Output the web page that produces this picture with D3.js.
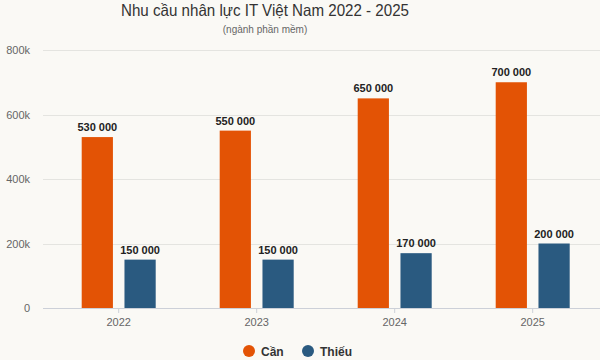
<!DOCTYPE html>
<html><head><meta charset="utf-8">
<script src="https://cdn.jsdelivr.net/npm/d3@7"></script>
<style>html,body{margin:0;padding:0;background:#faf9f5;}svg{display:block;font-family:"Liberation Sans",Arial,sans-serif;}</style>
</head><body><svg id="c" width="600" height="360"></svg>
<script>
const categories = ["2022", "2023", "2024", "2025"];
const seriesNames = ["Cần", "Thiếu"];
const canValues = [530000, 550000, 650000, 700000];
const thieuValues = [150000, 150000, 170000, 200000];
const yTicks = [0, 200000, 400000, 600000, 800000];
const yTickLabels = ["0", "200k", "400k", "600k", "800k"];
const colors = ["#e35305", "#2a5a80"];
const titleText = "Nhu cầu nhân lực IT Việt Nam 2022 - 2025";
const subtitleText = "(ngành phần mềm)";

const svg = d3.select("#c");
const W = 600, H = 360;
svg.append("rect").attr("width", W).attr("height", H).attr("fill", "#faf9f5");

const x0 = d3.scaleBand().domain(categories).range([49.7, 601.7]).paddingInner(0).paddingOuter(0);
const x1 = d3.scaleBand().domain(seriesNames).range([0, 74]).paddingInner(0.27);
const y = d3.scaleLinear().domain([0, 800000]).range([308, 50]);

// gridlines
svg.append("g").selectAll("line").data(yTicks.slice(1)).join("line")
  .attr("x1", 43).attr("x2", 600)
  .attr("y1", d => Math.round(y(d)) + 0.5).attr("y2", d => Math.round(y(d)) + 0.5)
  .attr("stroke", "#e4e4e0").attr("stroke-width", 1);

// y labels
svg.append("g").selectAll("text").data(yTicks).join("text")
  .attr("x", 30).attr("y", d => y(d) + 4)
  .attr("text-anchor", "end").attr("font-size", 11).attr("fill", "#666")
  .text((d, i) => yTickLabels[i]);

// x axis
const xAxis = svg.append("g").attr("transform", "translate(0,308)")
  .call(d3.axisBottom(x0).tickSize(5).tickSizeOuter(0).tickPadding(5));
xAxis.select(".domain").attr("stroke", "#ccd0d8").attr("d", "M43,0.5H600");
xAxis.selectAll(".tick line").attr("stroke", "#ccd0d8");
xAxis.selectAll(".tick text").attr("font-size", 11).attr("fill", "#666").attr("font-family", "Liberation Sans, Arial, sans-serif");

const data = categories.map((c, i) => ({cat: c, vals: [
  {s: seriesNames[0], v: canValues[i], c: colors[0]},
  {s: seriesNames[1], v: thieuValues[i], c: colors[1]}]}));

const groups = svg.append("g").selectAll("g").data(data).join("g")
  .attr("transform", d => `translate(${x0(d.cat) + x0.bandwidth() / 2 - 37},0)`);

groups.selectAll("rect").data(d => d.vals).join("rect")
  .attr("x", d => x1(d.s)).attr("width", x1.bandwidth())
  .attr("y", d => y(d.v)).attr("height", d => y(0) - y(d.v))
  .attr("fill", d => d.c);

const fmt = v => d3.format(",")(v).replace(/,/g, " ");
groups.selectAll("text").data(d => d.vals).join("text")
  .attr("x", d => x1(d.s) + x1.bandwidth() / 2).attr("y", d => y(d.v) - 6)
  .attr("text-anchor", "middle").attr("font-size", 11).attr("font-weight", "bold")
  .attr("fill", "#222").text(d => fmt(d.v));

// titles
svg.append("text").attr("x", 265).attr("y", 16).attr("text-anchor", "middle")
  .attr("font-size", 16.5).attr("fill", "#333")
  .attr("textLength", 288).attr("lengthAdjust", "spacingAndGlyphs").text(titleText);
svg.append("text").attr("x", 265).attr("y", 33).attr("text-anchor", "middle")
  .attr("font-size", 10).attr("fill", "#666").text(subtitleText);

// legend
const legendX = [249, 308];
const lg = svg.append("g").selectAll("g").data(seriesNames).join("g")
  .attr("transform", (d, i) => `translate(${legendX[i]},351)`);
lg.append("circle").attr("r", 6).attr("fill", (d, i) => colors[i]);
lg.append("text").attr("x", 12).attr("y", 4.5).attr("font-size", 12).attr("font-weight", "bold")
  .attr("fill", "#333").text(d => d);
</script></body></html>
